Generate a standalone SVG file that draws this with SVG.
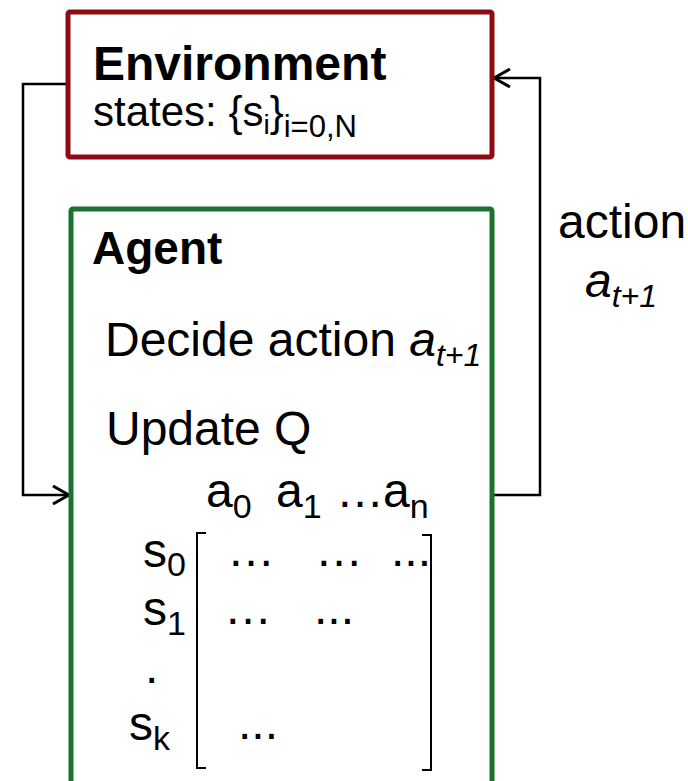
<svg xmlns="http://www.w3.org/2000/svg" width="688" height="781" viewBox="0 0 688 781">
<defs>
<style>
text{font-family:"Liberation Sans",Arial,sans-serif;fill:#000;}
.t{font-size:48px;}
.b{font-weight:bold;}
.sub{font-size:32px;}
.it{font-style:italic;}
.box{fill:#fff;stroke-width:5;stroke-linejoin:round;}
.conn{fill:none;stroke:#000;stroke-width:2.5;}
.brk{fill:none;stroke:#000;stroke-width:2;}
</style>
<marker id="arr" viewBox="0 0 20 20" refX="18" refY="10" markerWidth="20" markerHeight="20" markerUnits="userSpaceOnUse" orient="auto">
<path d="M2,1 L18,10 L2,19" fill="none" stroke="#000" stroke-width="3"/>
</marker>
</defs>
<rect width="688" height="781" fill="#fff"/>
<g id="connectors">
<path class="conn" d="M68,84 H23 V495 H69" marker-end="url(#arr)"/>
<path class="conn" d="M492,495 H540 V78 H494" marker-end="url(#arr)"/>
</g>
<g id="environment">
<rect class="box" x="68" y="12" width="424" height="145" rx="2" stroke="#8B0A14"/>
<text class="t b" x="93" y="80">Environment</text>
<text x="93" y="126" font-size="42">states: {s<tspan font-size="28" dy="8">i</tspan><tspan dy="-8">}</tspan><tspan font-size="31" dy="11">i=0,N</tspan></text>
</g>
<g id="action-label">
<text class="t" x="558" y="238">action</text>
<text class="t it" x="585" y="297">a<tspan class="sub" dy="10">t+1</tspan></text>
</g>
<g id="agent">
<rect class="box" x="71" y="209" width="421" height="620" rx="2" stroke="#1B7230"/>
<text class="b" x="92" y="264" font-size="46">Agent</text>
<text class="t" x="105" y="356">Decide action <tspan class="it">a</tspan><tspan class="sub it" dy="10">t+1</tspan></text>
<text class="t" x="106" y="445">Update Q</text>
<text class="t" x="206" y="507">a<tspan font-size="34" dy="11">0</tspan></text>
<text class="t" x="276" y="507">a<tspan font-size="34" dy="11">1</tspan></text>
<text class="t" x="336" y="507">…</text>
<text class="t" x="383" y="507">a<tspan font-size="34" dy="11">n</tspan></text>
<text class="t" x="143" y="567">s<tspan font-size="34" dy="9">0</tspan></text>
<text class="t" x="143" y="625">s<tspan font-size="34" dy="10">1</tspan></text>
<text class="t" x="145" y="683">.</text>
<text class="t" x="129" y="740">s<tspan font-size="34" dy="10">k</tspan></text>
<path class="brk" d="M206,533 H197 V768 H206"/>
<path class="brk" d="M422,535 H431 V770 H422"/>
<text class="t" x="227" y="566">…</text>
<text class="t" x="315" y="566">…</text>
<text class="t" x="391" y="566">...</text>
<text class="t" x="224" y="624">…</text>
<text class="t" x="314" y="624">...</text>
<text class="t" x="238" y="739">...</text>
</g>
</svg>
